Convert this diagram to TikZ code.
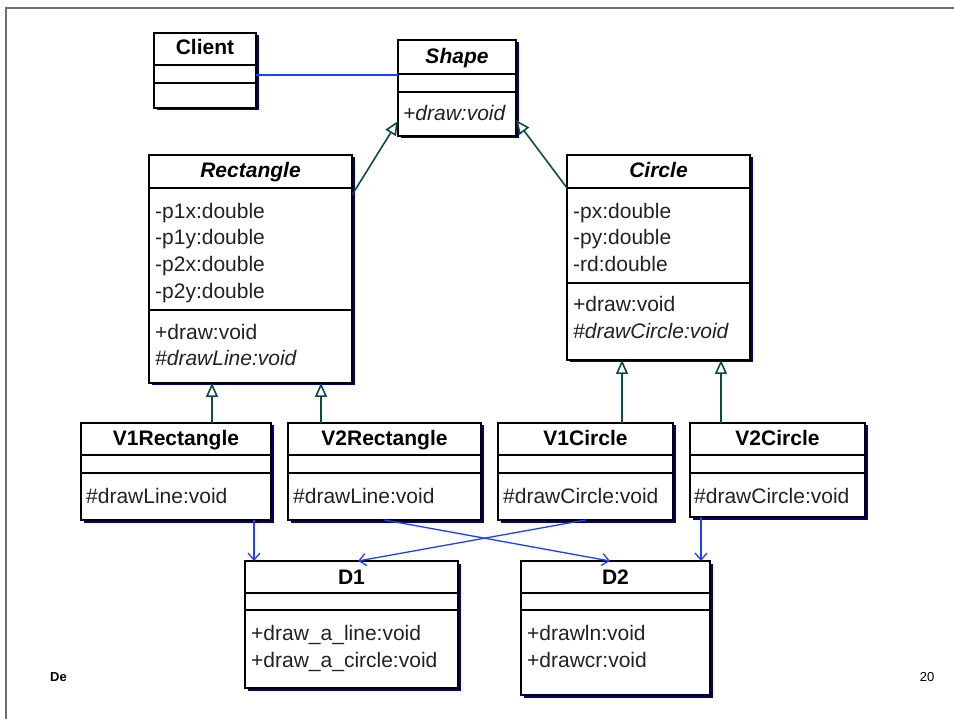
\documentclass[tikz,border=0pt]{standalone}
\usepackage{fontspec}
\setmainfont{Liberation Sans}
\usetikzlibrary{arrows.meta,shadows}

\definecolor{shadowblue}{RGB}{0,0,128}
\definecolor{genline}{RGB}{14,74,70}
\definecolor{deplink}{RGB}{32,64,255}
\definecolor{membertext}{RGB}{34,34,34}
\definecolor{framegray}{RGB}{110,110,110}

\tikzset{
  classbox/.style={draw=black, line width=1.8pt, fill=white, inner sep=0pt, outer sep=0pt,
    drop shadow={shadow xshift=2.5pt, shadow yshift=-2.5pt, fill=shadowblue, opacity=1}},
  sepline/.style={draw=black, line width=1.4pt},
  txt/.style={inner sep=0pt, text height=15pt, text depth=4pt},
  classtitle/.style={txt, font=\fontsize{21}{25}\selectfont\bfseries, text=black},
  abstracttitle/.style={classtitle, font=\fontsize{21}{25}\selectfont\bfseries\itshape},
  member/.style={txt, anchor=west, font=\fontsize{21}{25}\selectfont, text=membertext},
  absmember/.style={member, font=\fontsize{21}{25}\selectfont\itshape},
  gen/.style={draw=genline, line width=1.6pt,
    -{Triangle[open, length=14pt, width=12pt, fill=white]}},
  dep/.style={draw=deplink, line width=1.3pt, -{Straight Barb[length=7pt, width=12pt]}},
  assoc/.style={draw=deplink, line width=1.3pt},
  footer/.style={inner sep=0pt, font=\fontsize{13}{15}\selectfont},
}

% class box: name, left, top, right, bottom, first separator, second separator
\newcommand\umlbox[7]{%
  \node[classbox, anchor=north west, minimum width={#4-#2}, minimum height={#5-#3}] (#1) at (#2,#3) {};
  \draw[sepline] (#2,#6) -- (#4,#6);
  \draw[sepline] (#2,#7) -- (#4,#7);
}

\begin{document}
\begin{tikzpicture}[x=1pt, y=-1pt]
  \useasboundingbox (0,0) rectangle (954,719);

  % slide frame and footer
  \draw[framegray, line width=1.5pt] (954,8) -- (6,8) -- (6,719);
  \node[footer, font=\fontsize{13}{15}\selectfont\bfseries, anchor=west] (foot) at (50,677) {De};
  \node[footer] (pageno) at (927,677) {20};

  % classes
  \umlbox{client}{154}{33}{256}{108}{65}{83}
  \node[classtitle] (client-t) at (205,49.5) {Client};

  \umlbox{shape}{398}{40}{516}{136}{74}{92}
  \node[abstracttitle] (shape-t) at (457,58.5) {Shape};
  \node[absmember] (shape-m1) at (403,115) {+draw:void};

  \umlbox{rect}{149}{155}{352}{383}{188}{310}
  \node[abstracttitle] (rect-t) at (250.5,172.5) {Rectangle};
  \node[member] (rect-a1) at (155,213) {-p1x:double};
  \node[member] (rect-a2) at (155,239.5) {-p1y:double};
  \node[member] (rect-a3) at (155,266.5) {-p2x:double};
  \node[member] (rect-a4) at (155,293.5) {-p2y:double};
  \node[member] (rect-m1) at (155,334.5) {+draw:void};
  \node[absmember] (rect-m2) at (155,360.5) {\#drawLine:void};

  \umlbox{circ}{567}{155}{750}{360}{188}{283}
  \node[abstracttitle] (circ-t) at (658.5,172.5) {Circle};
  \node[member] (circ-a1) at (573,213) {-px:double};
  \node[member] (circ-a2) at (573,239.5) {-py:double};
  \node[member] (circ-a3) at (573,266.5) {-rd:double};
  \node[member] (circ-m1) at (573,306.5) {+draw:void};
  \node[absmember] (circ-m2) at (573,333.5) {\#drawCircle:void};

  \umlbox{v1r}{81}{423}{271}{520}{455}{473}
  \node[classtitle] (v1r-t) at (176,440) {V1Rectangle};
  \node[member] (v1r-m1) at (86,497.5) {\#drawLine:void};

  \umlbox{v2r}{288}{423}{481}{520}{455}{473}
  \node[classtitle] (v2r-t) at (384.5,440) {V2Rectangle};
  \node[member] (v2r-m1) at (293,497.5) {\#drawLine:void};

  \umlbox{v1c}{498}{423}{673}{520}{455}{473}
  \node[classtitle] (v1c-t) at (585.5,440) {V1Circle};
  \node[member] (v1c-m1) at (503,497.5) {\#drawCircle:void};

  \umlbox{v2c}{690}{423}{865}{517}{455}{473}
  \node[classtitle] (v2c-t) at (777.5,440) {V2Circle};
  \node[member] (v2c-m1) at (694,497.5) {\#drawCircle:void};

  \umlbox{dA}{245}{561}{458}{688}{593}{610}
  \node[classtitle] (dA-t) at (351.5,578.5) {D1};
  \node[member] (dA-m1) at (251,634.5) {+draw\_a\_line:void};
  \node[member] (dA-m2) at (251,661.5) {+draw\_a\_circle:void};

  \umlbox{dB}{521}{561}{710}{695}{593}{610}
  \node[classtitle] (dB-t) at (615.5,578.5) {D2};
  \node[member] (dB-m1) at (527,634.5) {+drawln:void};
  \node[member] (dB-m2) at (527,661.5) {+drawcr:void};

  % association
  \draw[assoc] ([yshift=-4.5pt]client.east) -- ([yshift=-4.5pt]client.east -| shape.west);

  % generalizations
  \draw[gen] ([yshift=-40pt]rect.north east) -- ([yshift=15pt]shape.south west);
  \draw[gen] ([yshift=-33pt]circ.north west) -- ([yshift=16pt]shape.south east);
  \draw[gen] ([xshift=36pt]v1r.north) -- ([xshift=36pt]v1r.north |- rect.south);
  \draw[gen] ([xshift=-63.5pt]v2r.north) -- ([xshift=-63.5pt]v2r.north |- rect.south);
  \draw[gen] ([xshift=36.5pt]v1c.north) -- ([xshift=36.5pt]v1c.north |- circ.south);
  \draw[gen] ([xshift=-56.5pt]v2c.north) -- ([xshift=-56.5pt]v2c.north |- circ.south);

  % dependencies on the drawing APIs
  \draw[dep] ([xshift=78pt]v1r.south) -- ([xshift=78pt]v1r.south |- dA.north);
  \draw[dep] ([xshift=-76.5pt]v2c.south) -- ([xshift=-76.5pt]v2c.south |- dB.north);
  \draw[dep] (v2r.south) -- ([xshift=-5.5pt]dB.north);
  \draw[dep] (v1c.south) -- ([xshift=6.5pt]dA.north);
\end{tikzpicture}
\end{document}
